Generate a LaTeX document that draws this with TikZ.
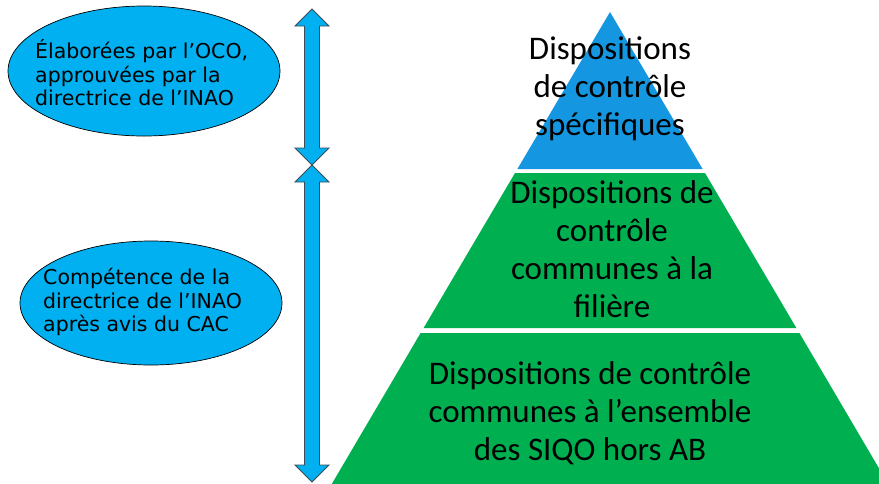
\documentclass[tikz,border=0pt]{standalone}
\usepackage{fontspec}
\setmainfont{Carlito}
\newfontfamily\ellfont{DejaVu Sans}
\definecolor{cyanfill}{RGB}{0,176,240}
\definecolor{topblue}{RGB}{20,150,225}
\definecolor{pgreen}{RGB}{0,176,80}
\definecolor{arrowline}{RGB}{60,75,85}
\begin{document}
\begin{tikzpicture}[x=1pt,y=-1pt,
  bubble/.style={draw=black, line width=0.7pt, fill=cyanfill},
  bubbletext/.style={inner sep=0pt, align=left, font=\ellfont\fontsize{20.5}{23.5}\selectfont},
  pyrtext/.style={align=center, font=\fontsize{33}{38}\selectfont, inner sep=0pt},
  arrowshape/.style={fill=cyanfill, draw=arrowline, line width=0.8pt, line join=miter}]
\useasboundingbox (0,0) rectangle (879,483);
\fill[white] (0,0) rectangle (879,483);

% pyramid
\begin{scope}
\clip (0,0) rectangle (879,483);
\fill[topblue] (610,12) -- (517.4,169) -- (702.6,169) -- cycle;
\fill[pgreen] (515,173) -- (705,173) -- (796.4,328) -- (423.6,328) -- cycle;
\fill[pgreen] (420.6,333) -- (799.4,333) -- (900,504) -- (320,504) -- cycle;
\end{scope}

\node[pyrtext] (top) at (610,89) {Dispositions\\de contrôle\\spécifiques};
\node[pyrtext] (mid) at (612,249) {Dispositions de\\contrôle\\communes à la\\filière};
\node[pyrtext] (bot) at (590,413) {Dispositions de contrôle\\communes à l’ensemble\\des SIQO hors AB};

% arrows
\draw[arrowshape] (312,9) -- (329,26) -- (319.5,26) -- (319.5,148) -- (329,148) -- (312,165)
  -- (295,148) -- (304.5,148) -- (304.5,26) -- (295,26) -- cycle;
\draw[arrowshape] (312,165) -- (329,182) -- (319.5,182) -- (319.5,465) -- (329,465) -- (312,482)
  -- (295,465) -- (304.5,465) -- (304.5,182) -- (295,182) -- cycle;

% ellipses
\coordinate (c1) at (144,71);
\coordinate (c2) at (151,303);
\draw[bubble] (c1) ellipse [x radius=136, y radius=65];
\draw[bubble] (c2) ellipse [x radius=131, y radius=62];
\node[bubbletext, anchor=west] (e1) at (35,73)
  {Élaborées par l’OCO,\\approuvées par la\\directrice de l’INAO};
\node[bubbletext, anchor=west] (e2) at (43,302)
  {Compétence de la\\directrice de l’INAO\\après avis du CAC};
\end{tikzpicture}
\end{document}
